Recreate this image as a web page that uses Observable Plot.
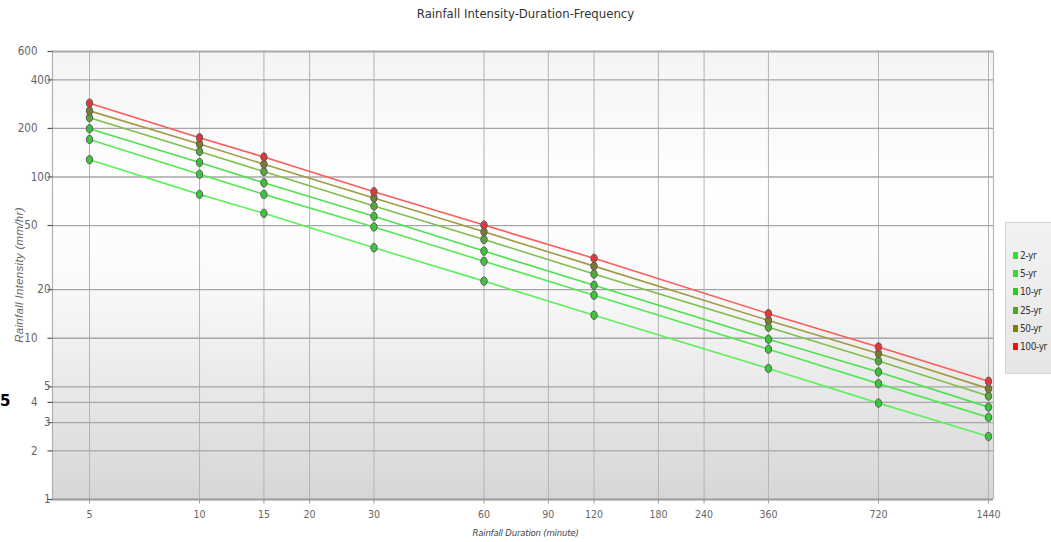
<!DOCTYPE html>
<html><head><meta charset="utf-8">
<script src="https://cdn.jsdelivr.net/npm/d3@7"></script>
<script src="https://cdn.jsdelivr.net/npm/@observablehq/plot@0.6"></script>
<style>
body{margin:0;background:#fff;width:1051px;height:542px;overflow:hidden;position:relative;font-family:"Liberation Sans Narrow","DejaVu Sans Condensed",sans-serif;}
#chart{position:absolute;left:0;top:0;}
#title{position:absolute;left:0;width:1051px;top:6px;text-align:center;font-size:13px;color:#333;font-family:"DejaVu Sans Condensed",sans-serif;}
#xlabel{position:absolute;left:0;width:1051px;top:527px;text-align:center;font-size:9.5px;font-style:italic;color:#444;font-family:"DejaVu Sans Condensed",sans-serif;letter-spacing:-0.2px;}
#ylabel{position:absolute;left:19px;top:275px;transform:translate(-50%,-50%) rotate(-90deg);white-space:nowrap;font-style:italic;color:#666;font-family:"Liberation Sans",sans-serif;font-size:11.5px;letter-spacing:0.3px;}
#legend{position:absolute;left:1005px;top:222px;width:60px;height:152px;background:linear-gradient(#f2f2f2,#e6e6e6);border:1px solid #d4d4d4;box-sizing:border-box;}
.li{position:absolute;left:7px;font-size:10px;color:#333;line-height:12px;letter-spacing:-0.4px;white-space:nowrap;}
.sw{display:inline-block;width:5px;height:7px;margin-right:2px;}
#stray{position:absolute;left:0px;top:392px;font-size:15px;font-weight:bold;color:#000;font-family:"DejaVu Sans",sans-serif;}
</style>
</head><body>
<div id="chart"></div>
<div id="title">Rainfall Intensity-Duration-Frequency</div>
<div id="xlabel">Rainfall Duration (minute)</div>
<div id="ylabel">Rainfall Intensity (mm/hr)</div>
<div id="legend"></div>
<div id="stray">5</div>
<script>
const durations = [5, 10, 15, 30, 60, 120, 360, 720, 1440];
const yr2   = [128, 78, 59.5, 36.4, 22.6, 13.9, 6.5, 3.96, 2.46];
const yr5   = [171, 104, 78, 49, 30, 18.5, 8.55, 5.23, 3.23];
const yr10  = [199, 123, 92, 57, 34.7, 21.3, 9.86, 6.18, 3.74];
const yr25  = [233, 144, 108, 66, 41, 25, 11.7, 7.23, 4.38];
const yr50  = [257, 160, 120, 74, 45.7, 28, 12.9, 8.03, 4.87];
const yr100 = [287, 175, 133, 81, 50.3, 31.3, 14.2, 8.83, 5.41];
const seriesNames = ["2-yr", "5-yr", "10-yr", "25-yr", "50-yr", "100-yr"];
const xTicks = [5, 10, 15, 20, 30, 60, 90, 120, 180, 240, 360, 720, 1440];
const yTicksA = [400, 100, 20, 5, 3, 1];
const yTicksB = [600, 200, 50, 10, 4, 2];

const seriesValues = [yr2, yr5, yr10, yr25, yr50, yr100];
const lineColors = ["#5ef05e", "#55e855", "#4ee04e", "#7cc04e", "#a09a45", "#ff5a5a"];
const dotFills   = ["#3fc43f", "#3fc43f", "#3cc03c", "#55a83a", "#7a7a30", "#e03838"];
const swatches   = ["#33dd33", "#33dd33", "#22d022", "#44aa22", "#7f7f00", "#ee1111"];

const rows = [];
seriesNames.forEach((s, i) => durations.forEach((d, j) => rows.push({series: s, duration: d, value: seriesValues[i][j]})));

const ellipse = {draw(ctx) {
  const rx = 3.2, ry = 4.2, k = 0.5523;
  ctx.moveTo(rx, 0);
  ctx.bezierCurveTo(rx, ry * k, rx * k, ry, 0, ry);
  ctx.bezierCurveTo(-rx * k, ry, -rx, ry * k, -rx, 0);
  ctx.bezierCurveTo(-rx, -ry * k, -rx * k, -ry, 0, -ry);
  ctx.bezierCurveTo(rx * k, -ry, rx, -ry * k, rx, 0);
  ctx.closePath();
}};
const vTick = {draw(ctx) { ctx.moveTo(0, 0); ctx.lineTo(0, 4); }};
const hTick = {draw(ctx) { ctx.moveTo(-5, 0); ctx.lineTo(0, 0); }};

const yAll = yTicksA.concat(yTicksB);
const fmt = d => String(d);
const marks = [
  Plot.frame({fill: "url(#bg)", stroke: null}),
  Plot.ruleX(xTicks, {stroke: "#b4b4b4", strokeWidth: 1}),
  Plot.ruleY(yAll.filter(v => v !== 1 && v !== 600), {stroke: "#a6a6a6", strokeWidth: 1.3}),
  Plot.ruleY([600], {stroke: "#a8a8a8", strokeWidth: 2}),
  Plot.ruleY([1], {stroke: "#9a9a9a", strokeWidth: 2}),
  Plot.ruleX([3.96], {stroke: "#b0b0b0", strokeWidth: 1.2}),
  Plot.ruleX([1486], {stroke: "#b8b8b8", strokeWidth: 1.2}),
  Plot.dot(xTicks, {x: d => d, frameAnchor: "bottom", symbol: vTick, stroke: "#999", strokeWidth: 1, r: 4}),
  Plot.text(xTicks, {x: d => d, frameAnchor: "bottom", dy: 18, text: fmt, fill: "#666", fontSize: 10.5}),
  Plot.dot(yAll, {y: d => d, frameAnchor: "left", symbol: hTick, stroke: "#555", strokeWidth: 1.2, r: 4}),
  Plot.text(yTicksA, {y: d => d, frameAnchor: "left", textAnchor: "end", dx: -2, text: fmt, fill: "#666", fontSize: 11.5}),
  Plot.text(yTicksB, {y: d => d, frameAnchor: "left", textAnchor: "end", dx: -15, text: fmt, fill: "#666", fontSize: 11.5})
];
seriesNames.forEach((s, i) => {
  const data = rows.filter(r => r.series === s);
  marks.push(Plot.line(data, {x: "duration", y: "value", stroke: lineColors[i], strokeWidth: 1.6}));
});
seriesNames.forEach((s, i) => {
  const data = rows.filter(r => r.series === s);
  marks.push(Plot.dot(data, {x: "duration", y: "value", symbol: ellipse, fill: dotFills[i], stroke: "#5a5a5a", strokeWidth: 1, r: 4}));
});

const chart = Plot.plot({
  width: 1051, height: 542,
  marginLeft: 52, marginRight: 58, marginTop: 51, marginBottom: 43,
  x: {type: "log", domain: [3.96, 1486], axis: null},
  y: {type: "log", domain: [1, 600], axis: null},
  style: {fontFamily: "'Liberation Sans Narrow','DejaVu Sans Condensed',sans-serif", fontSize: "11px", background: "transparent", color: "#666"},
  marks
});
const defs = document.createElementNS("http://www.w3.org/2000/svg", "defs");
defs.innerHTML = '<linearGradient id="bg" x1="0" y1="0" x2="0" y2="1"><stop offset="0" stop-color="#f4f4f4"/><stop offset="0.3" stop-color="#ffffff"/><stop offset="0.5" stop-color="#fbfbfb"/><stop offset="1" stop-color="#d6d6d6"/></linearGradient>';
chart.insertBefore(defs, chart.firstChild);
document.getElementById("chart").appendChild(chart);

const legend = document.getElementById("legend");
seriesNames.forEach((s, i) => {
  const el = document.createElement("div");
  el.className = "li";
  el.style.top = (27 + i * 18.2) + "px";
  el.innerHTML = `<span class="sw" style="background:${swatches[i]}"></span>${s}`;
  legend.appendChild(el);
});
</script>
</body></html>
